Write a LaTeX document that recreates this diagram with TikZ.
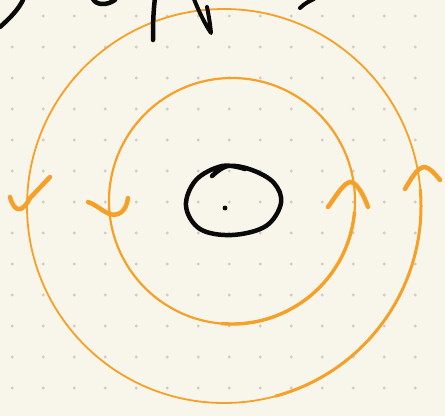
\documentclass[tikz,border=0pt]{standalone}
\usepackage{xcolor}
\usepackage{tikz}
\definecolor{paper}{RGB}{248,246,234}
\definecolor{griddot}{RGB}{204,204,200}
\definecolor{penorange}{RGB}{246,160,40}
\definecolor{penblack}{RGB}{10,10,10}

\begin{document}
\begin{tikzpicture}[
    x=1pt, y=-1pt,
    orbit/.style={draw=penorange, line width=1.8pt},
    tick/.style={draw=penorange, line width=4.5pt, line cap=round, line join=round},
    ink/.style={draw=penblack, line width=4.5pt, line cap=round, line join=round}
]

% Paper and dot grid
\useasboundingbox (0,0) rectangle (445,416);
\fill[paper] (0,0) rectangle (445,416);
\foreach \i in {0,...,13}
  \foreach \j in {0,...,12}
    \fill[griddot] (12.3+31*\i,16+31*\j) circle[radius=1.6pt];

% Circles
\draw[orbit] (224,206) circle[radius=197pt];
\draw[orbit, line width=3pt] (224,206) ++(5:197pt) arc[start angle=5, end angle=-75, radius=197pt];
\draw[orbit, line width=2.2pt] (232,201) circle[radius=123pt];
\draw[orbit, line width=3.4pt] (232,201) ++(-5:123pt) arc[start angle=-5, end angle=-95, radius=123pt];

% Centre loop and dot
\draw[ink] plot[smooth, tension=0.6] coordinates {(212,176) (228,166) (252,170) (274,183) (281,203) (266,226) (232,235) (200,229) (186,206) (196,180) (222,166) (245,169)};
\fill[penblack] (225,208) circle[radius=2.4pt];

% Marks on the circles
\draw[tick] (10,197) .. controls (14,212) and (22,214) .. (30,198) -- (50,177);
\draw[tick] (88,202) .. controls (100,206) and (108,218) .. (118,214) .. controls (125,211) and (127,205) .. (128,198);
\draw[tick] (328,207) .. controls (336,196) and (344,182) .. (351,182) .. controls (358,184) and (364,196) .. (368,207);
\draw[tick] (405,189) .. controls (412,177) and (418,167) .. (425,167) .. controls (430,168) and (436,175) .. (440,180);

% Writing cut off at the top
\draw[ink] (0,27) .. controls (10,18) and (18,10) .. (23,0);
\draw[ink] (93,-1) .. controls (96,5) and (106,6) .. (115,0);
\draw[ink] (155,-2) .. controls (153,14) and (153,28) .. (153,40);
\draw[ink, line width=4pt] (194,-1) .. controls (199,12) and (205,24) .. (211,33) .. controls (210,22) and (208,12) .. (207,7);
\draw[ink, line width=4pt] (300,8) .. controls (305,3) and (310,1) .. (314,-1);

\end{tikzpicture}
\end{document}
